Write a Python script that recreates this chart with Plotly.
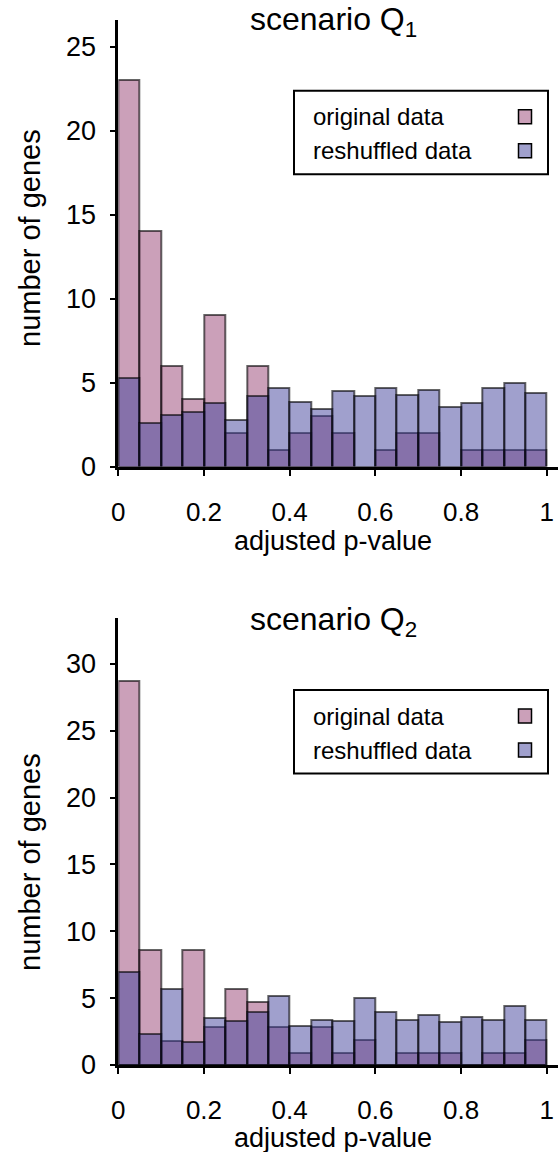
import numpy as np
import plotly.graph_objects as go

# Histogram bins of adjusted p-values (20 bins of width 0.05)
bin_edges = np.linspace(0.0, 1.0, 21)
bin_centers = (bin_edges[:-1] + bin_edges[1:]) / 2
bin_width = 0.05

# Scenario Q1
orig_q1 = [23, 14, 6, 4, 9, 2, 6, 1, 2, 3, 2, 0, 1, 2, 2, 0, 1, 1, 1, 1]
resh_q1 = [5.27, 2.57, 3.06, 3.27, 3.79, 2.75, 4.19, 4.67, 3.87, 3.45,
           4.47, 4.17, 4.66, 4.26, 4.57, 3.57, 3.78, 4.66, 4.96, 4.37]

# Scenario Q2
orig_q2 = [28.7, 8.57, 1.82, 8.57, 2.82, 5.69, 4.73, 2.82, 0.92, 2.82,
           0.92, 1.85, 0, 0.92, 0.92, 0.92, 0, 0.92, 0.92, 1.85]
resh_q2 = [6.93, 2.3, 5.69, 1.72, 3.49, 3.27, 3.94, 5.19, 2.89, 3.36,
           3.3, 4.99, 3.94, 3.37, 3.76, 3.18, 3.57, 3.38, 4.42, 3.37]

x_ticks = [0, 0.2, 0.4, 0.6, 0.8, 1]
x_ticktext = ["0", "0.2", "0.4", "0.6", "0.8", "1"]
y_ticks_q1 = [0, 5, 10, 15, 20, 25]
y_ticks_q2 = [0, 5, 10, 15, 20, 25, 30]

series_names = ["original data", "reshuffled data"]
titles = ["scenario Q<sub>1</sub>", "scenario Q<sub>2</sub>"]
x_title = "adjusted p-value"
y_title = "number of genes"

W, H = 558, 1152
FONT = "Liberation Sans, Arial, sans-serif"
PINK = "rgba(151,65,115,0.5)"
BLUE = "rgba(65,65,155,0.5)"
EDGE = "rgba(0,0,0,0.6)"
PINK_SOLID = "rgb(203,160,185)"
BLUE_SOLID = "rgb(160,160,205)"


def px(x):
    return x / W


def py(y):
    return 1 - y / H


fig = go.Figure()

panels = [
    dict(orig=orig_q1, resh=resh_q1, xa="x", ya="y", top=20, zero=466.5,
         ymax=26.59, yticks=y_ticks_q1, title=titles[0], title_y=22,
         xlab_y=541, ylab_y=238, leg_top=90.7),
    dict(orig=orig_q2, resh=resh_q2, xa="x2", ya="y2", top=618, zero=1065,
         ymax=33.43, yticks=y_ticks_q2, title=titles[1], title_y=621,
         xlab_y=1138, ylab_y=862, leg_top=690),
]

annotations = []
shapes = []

for i, p in enumerate(panels):
    for vals, color, name in [(p["orig"], PINK, series_names[0]),
                              (p["resh"], BLUE, series_names[1])]:
        fig.add_trace(go.Bar(
            x=bin_centers, y=vals, width=bin_width, name=name,
            marker=dict(color=color, line=dict(color=EDGE, width=2)),
            xaxis=p["xa"], yaxis=p["ya"], showlegend=False,
        ))

    sfx = "" if i == 0 else "2"
    fig.update_layout({
        "xaxis" + sfx: dict(
            domain=[px(118.3), 1.0], range=[0, (W - 118.3) / 428.4],
            anchor="y" + sfx, showline=True, linewidth=3, linecolor="black",
            ticks="outside", ticklen=6, tickwidth=2, tickcolor="black",
            tickvals=x_ticks, ticktext=x_ticktext, showgrid=False,
            zeroline=False, tickfont=dict(size=26, color="black", family=FONT),
            ticklabelstandoff=14, automargin=False, fixedrange=True,
        ),
        "yaxis" + sfx: dict(
            domain=[py(p["zero"]), py(p["top"])], range=[0, p["ymax"]],
            anchor="x" + sfx, showline=True, linewidth=2.5, linecolor="black",
            ticks="outside", ticklen=6, tickwidth=2, tickcolor="black",
            tickvals=p["yticks"], showgrid=False, zeroline=False,
            tickfont=dict(size=27, color="black", family=FONT),
            ticklabelstandoff=8, automargin=False, fixedrange=True,
        ),
    })

    # panel title and axis titles
    annotations.append(dict(text=p["title"], x=px(333), y=py(p["title_y"]),
                            xref="paper", yref="paper", showarrow=False,
                            xanchor="center", yanchor="middle",
                            font=dict(size=32, color="black", family=FONT)))
    annotations.append(dict(text=x_title, x=px(333), y=py(p["xlab_y"]),
                            xref="paper", yref="paper", showarrow=False,
                            xanchor="center", yanchor="middle",
                            font=dict(size=27, color="black", family=FONT)))
    annotations.append(dict(text=y_title, x=px(30), y=py(p["ylab_y"]),
                            xref="paper", yref="paper", showarrow=False,
                            textangle=-90, xanchor="center", yanchor="middle",
                            font=dict(size=29, color="black", family=FONT)))

    # legend box with swatches on the right
    t = p["leg_top"]
    shapes.append(dict(type="rect", xref="paper", yref="paper",
                       x0=px(294), x1=px(548), y0=py(t), y1=py(t + 83.6),
                       line=dict(color="black", width=2), fillcolor="white",
                       layer="above"))
    for k, (name, sw) in enumerate([(series_names[0], PINK_SOLID),
                                    (series_names[1], BLUE_SOLID)]):
        cy = t + 26 + k * 34
        annotations.append(dict(text=name, x=px(311), y=py(cy),
                                xref="paper", yref="paper", showarrow=False,
                                xanchor="left", yanchor="middle",
                                font=dict(size=24, color="black", family=FONT)))
        shapes.append(dict(type="rect", xref="paper", yref="paper",
                           x0=px(518.5), x1=px(531.5),
                           y0=py(cy - 7), y1=py(cy + 7),
                           line=dict(color="black", width=1.5),
                           fillcolor=sw, layer="above"))

fig.update_layout(
    width=W, height=H, margin=dict(l=0, r=0, t=0, b=0, autoexpand=False),
    barmode="overlay", bargap=0, showlegend=False,
    plot_bgcolor="white", paper_bgcolor="white",
    font=dict(family=FONT, color="black"),
    annotations=annotations, shapes=shapes,
)

fig.write_html("out.html")
